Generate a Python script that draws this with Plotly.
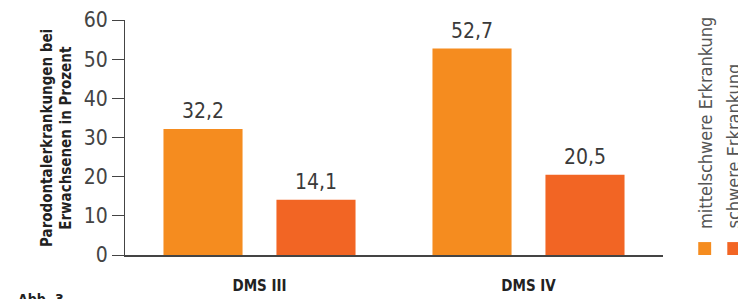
import plotly.graph_objects as go

categories = ["DMS III", "DMS IV"]
series_names = ["mittelschwere Erkrankung", "schwere Erkrankung"]
mittelschwere = [32.2, 52.7]
schwere = [14.1, 20.5]
series_values = [mittelschwere, schwere]
colors = ["#F58C1F", "#F26524"]
y_ticks = [0, 10, 20, 30, 40, 50, 60]

LIGHT = "DejaVu Sans Condensed, Roboto, sans-serif"
BOLD = "DejaVu Sans Condensed, Roboto, sans-serif"

fig = go.Figure()
for name, vals, col in zip(series_names, series_values, colors):
    fig.add_trace(go.Bar(
        x=categories, y=vals, name=name, marker_color=col,
        marker_line_width=0, showlegend=False,
    ))

offsets = [-56.5, 56.5]
for si, vals in enumerate(series_values):
    for ci, v in enumerate(vals):
        fig.add_annotation(
            x=categories[ci], y=v, xref="x", yref="y",
            text=f"{v:.1f}".replace(".", ","), showarrow=False,
            xshift=offsets[si], yanchor="bottom", yshift=4,
            font=dict(family=LIGHT, size=21, color="#3a3a3a", weight=300),
        )

fig.add_annotation(x=-0.145, y=0.498, xref="paper", yref="paper",
                   text="<b>Parodontalerkrankungen bei</b>", textangle=-90,
                   xanchor="center", yanchor="middle",
                   showarrow=False, font=dict(family=BOLD, size=15, color="#222"))
fig.add_annotation(x=-0.110, y=0.498, xref="paper", yref="paper",
                   text="<b>Erwachsenen in Prozent</b>", textangle=-90,
                   xanchor="center", yanchor="middle",
                   showarrow=False, font=dict(family=BOLD, size=15, color="#222"))

fig.add_annotation(x=-0.203, y=-0.145, xref="paper", yref="paper",
                   text="<b>Abb. 3</b>", showarrow=False, xanchor="left", yanchor="top",
                   font=dict(family=BOLD, size=14, color="#222"))

leg_x = [1.078, 1.132]
for name, col, lx in zip(series_names, colors, leg_x):
    fig.add_annotation(x=lx, y=0.102, xref="paper", yref="paper",
                       text=name, textangle=-90, showarrow=False,
                       yanchor="bottom", xanchor="center",
                       font=dict(family=LIGHT, size=18, color="#555", weight=300))
    fig.add_shape(type="rect", xref="paper", yref="paper",
                  x0=lx - 0.0125, x1=lx + 0.0115, y0=0.0, y1=0.055,
                  fillcolor=col, line_width=0)

# page body has an 8px default margin: figure is sized/offset to compensate
fig.update_layout(
    width=738, height=291,
    margin=dict(l=117, r=83, t=12, b=44, autoexpand=False),
    paper_bgcolor="white", plot_bgcolor="white",
    barmode="group", bargap=0.16, bargroupgap=0.30,
    showlegend=False,
)
fig.update_xaxes(
    range=[-0.5, 1.5], showline=True, linecolor="#444", linewidth=1.5,
    ticks="", showgrid=False, ticklabelstandoff=16, automargin=False,
    tickfont=dict(family=BOLD, size=15, color="#222"),
    tickprefix="<b>", ticksuffix="</b>",
)
fig.update_yaxes(
    range=[0, 60], tickvals=y_ticks, showline=True, linecolor="#444", linewidth=1,
    ticks="outside", ticklen=12, tickcolor="#444", tickwidth=1,
    showgrid=False, zeroline=False, automargin=False,
    tickfont=dict(family=LIGHT, size=21, color="#444", weight=300),
)

fig.write_html("out.html")
